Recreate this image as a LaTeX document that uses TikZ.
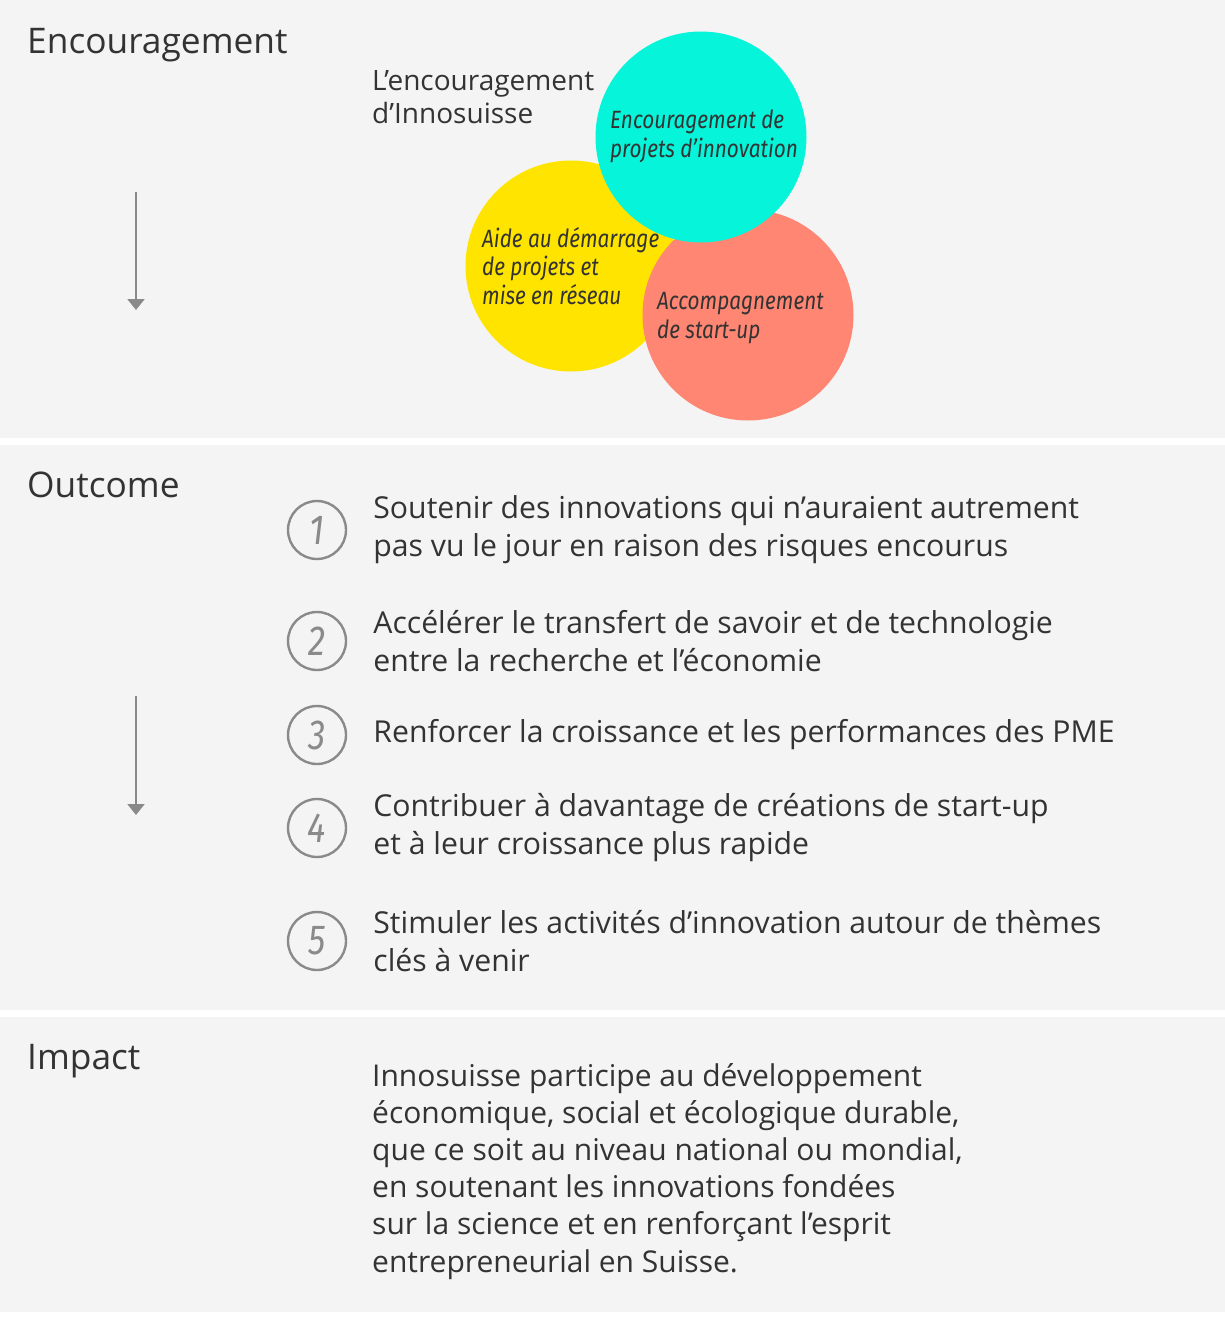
\documentclass[tikz,border=0pt]{standalone}
\usepackage{fontspec}
\setmainfont{Open Sans}
\newfontfamily\handfont[FakeStretch=0.83]{Fira Sans}
\usetikzlibrary{positioning,arrows.meta}
\definecolor{panelgrey}{HTML}{F4F4F4}
\definecolor{textgrey}{HTML}{333333}
\definecolor{linegrey}{HTML}{8A8A8A}
\definecolor{innocyan}{HTML}{05F4DA}
\definecolor{innoyellow}{HTML}{FFE400}
\definecolor{innosalmon}{HTML}{FF8673}
\tikzset{%
  panel/.style      = {fill=panelgrey, draw=none},%
  heading/.style    = {anchor=base west, inner sep=0pt, text=textgrey,%
                       font=\fontsize{35.3}{40}\selectfont},%
  plain/.style      = {anchor=base west, inner sep=0pt, align=left, text=textgrey},%
  bubble/.style     = {circle, draw=none, minimum size=211pt, inner sep=0pt},%
  bubbletext/.style = {plain, font=\handfont\itshape\fontsize{25}{28.5}\selectfont},%
  numcirc/.style    = {circle, draw=linegrey, line width=2.4pt, minimum size=58pt,%
                       inner sep=0pt, text=linegrey,%
                       font=\handfont\itshape\fontsize{42}{42}\selectfont},%
  itemtext/.style   = {inner sep=0pt, align=left, text=textgrey,%
                       font=\fontsize{30.2}{38}\selectfont},%
  flow/.style       = {draw=linegrey, line width=2pt,%
                       -{Triangle[width=17pt,length=11pt]}}%
}

\begin{document}
\begin{tikzpicture}[x=1pt,y=-1pt]
	\useasboundingbox (0,0) rectangle (1225,1317);
	\fill[white] (0,0) rectangle (1225,1317);
	% three bands
	\path[panel] (0,0) rectangle (1225,438);
	\path[panel] (0,445) rectangle (1225,1010);
	\path[panel] (0,1017) rectangle (1225,1312);
	\node[heading] (enc) at (27,53) {Encouragement};
	\node[heading] (out) at (27,497) {Outcome};
	\node[heading] (imp) at (27,1069) {Impact};
	\coordinate (flowtop1) at (136,192);
	\coordinate (flowend1) at (136,310);
	\coordinate (flowtop2) at (136,696);
	\coordinate (flowend2) at (136,815);
	\draw[flow] (flowtop1) -- (flowend1);
	\draw[flow] (flowtop2) -- (flowend2);
	% Encouragement
	\node[plain, font=\fontsize{28}{33}\selectfont] (intro) at (372,123)
		{L’encouragement\\d’Innosuisse};
	\node[bubble, fill=innoyellow] (aide) at (571,266) {};
	\node[bubble, fill=innosalmon] (accomp) at (748,315) {};
	\node[bubble, fill=innocyan] (projets) at (701,137) {};
	\node[bubbletext] (projetslbl) at (610,157) {Encouragement de\\projets d’innovation};
	\node[bubbletext] (aidelbl) at (482,304) {Aide au démarrage\\de projets et\\mise en réseau};
	\node[bubbletext] (accomplbl) at (657,338) {Accompagnement\\de start-up};
	% Outcome
	\node[numcirc] (n1) at (317,530) {1};
	\node[numcirc] (n2) at (317,641) {2};
	\node[numcirc] (n3) at (317,735) {3};
	\node[numcirc] (n4) at (317,828) {4};
	\node[numcirc] (n5) at (317,941) {5};
	\node[itemtext, right=26pt of n1] (t1)
		{Soutenir des innovations qui n’auraient autrement\\pas vu le jour en raison des risques encourus};
	\node[itemtext, right=26pt of n2] (t2)
		{Accélérer le transfert de savoir et de technologie\\entre la recherche et l’économie};
	\node[itemtext, right=26pt of n3] (t3)
		{Renforcer la croissance et les performances des PME};
	\node[itemtext, right=26pt of n4] (t4)
		{Contribuer à davantage de créations de start-up\\et à leur croissance plus rapide};
	\node[itemtext, right=26pt of n5] (t5)
		{Stimuler les activités d’innovation autour de thèmes\\clés à venir};
	% Impact
	\node[plain, font=\fontsize{30}{37.2}\selectfont] (impt) at (372,1272)
		{Innosuisse participe au développement\\
		économique, social et écologique durable,\\
		que ce soit au niveau national ou mondial,\\
		en soutenant les innovations fondées\\
		sur la science et en renforçant l’esprit\\
		entrepreneurial en Suisse.};
\end{tikzpicture}
\end{document}
